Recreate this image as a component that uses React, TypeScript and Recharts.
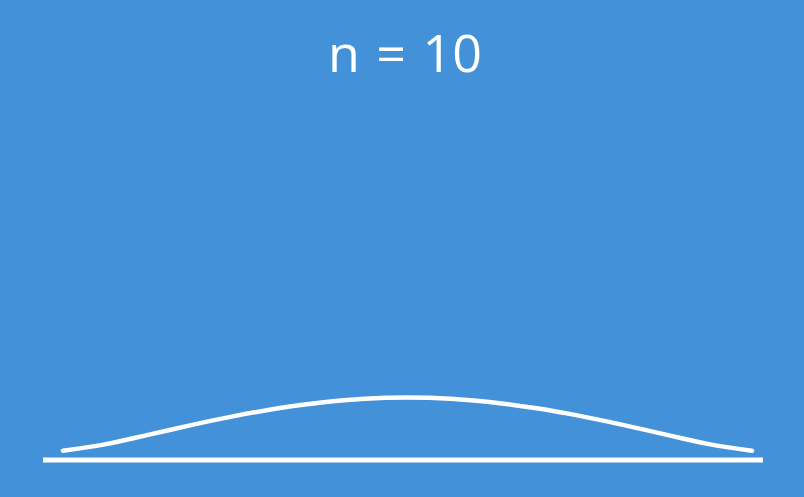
import React from "react";
import { LineChart, Line, XAxis, YAxis, ReferenceLine } from "recharts";

// curve position in standard units and its height (density)
const positions = [-2, -1.75, -1.5, -1.25, -1, -0.75, -0.5, -0.25, 0, 0.25, 0.5, 0.75, 1, 1.25, 1.5, 1.75, 2];
const densities = [0.059, 0.101, 0.161, 0.223, 0.28, 0.328, 0.365, 0.389, 0.397, 0.389, 0.365, 0.328, 0.28, 0.223, 0.161, 0.101, 0.059];
const title = "n = 10";

const data = positions.map((x, i) => ({ x, y: densities[i] }));

const BG = "#4291d9";

export default function App() {
  return (
    <div
      style={{
        position: "absolute",
        left: 0,
        top: 0,
        width: 804,
        height: 497,
        background: BG,
        overflow: "hidden",
      }}
    >
      <div
        style={{
          position: "absolute",
          left: 0,
          width: 804,
          top: 26,
          textAlign: "center",
          fontFamily: "'Open Sans', sans-serif",
          fontSize: 52,
          lineHeight: "52px",
          wordSpacing: 3,
          color: "#ffffff",
          paddingLeft: 6,
          boxSizing: "border-box",
        }}
      >
        {title}
      </div>
      <div style={{ position: "absolute", left: 0, top: 0 }}>
        <LineChart width={804} height={497} data={data} margin={{ top: 334, right: 41, bottom: 37, left: 43 }}>
          <XAxis type="number" dataKey="x" domain={[-2.116, 2.064]} allowDataOverflow hide />
          <YAxis type="number" domain={[0, 0.8]} allowDataOverflow hide />
          <ReferenceLine y={0} stroke="#ffffff" strokeWidth={5} />
          <Line
            type="monotone"
            dataKey="y"
            stroke="#ffffff"
            strokeWidth={4.5}
            strokeLinecap="round"
            dot={false}
            activeDot={false}
            isAnimationActive={false}
          />
        </LineChart>
      </div>
    </div>
  );
}
